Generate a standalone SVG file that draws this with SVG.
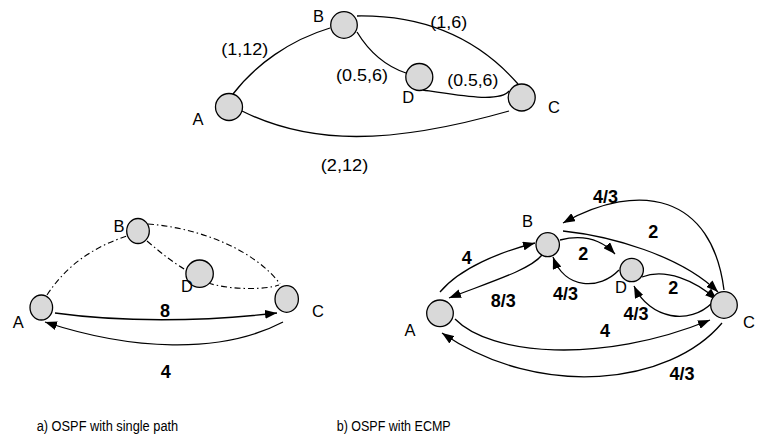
<svg xmlns="http://www.w3.org/2000/svg" width="758" height="439" viewBox="0 0 758 439">
<style>
.edge{fill:none;stroke:#000;stroke-width:1.3}
.dash{fill:none;stroke:#000;stroke-width:1.1;stroke-dasharray:6 3 1.5 3}
.arr{fill:none;stroke:#000;stroke-width:1.3;marker-end:url(#ah)}
.node{fill:#d9d9d9;stroke:#000;stroke-width:1.3}
.nl{font-family:"Liberation Sans",Arial,sans-serif;font-size:16.5px;fill:#000;text-anchor:middle}
.el{font-family:"Liberation Sans",Arial,sans-serif;font-size:17px;fill:#000;text-anchor:middle}
.bl{font-family:"Liberation Sans",Arial,sans-serif;font-size:18px;font-weight:bold;fill:#000;text-anchor:middle}
.cap{font-family:"Liberation Sans",Arial,sans-serif;font-size:14px;fill:#000}
</style>
<defs>
<marker id="ah" viewBox="0 0 12 9" refX="12" refY="4.5" markerWidth="12" markerHeight="9" orient="auto" markerUnits="userSpaceOnUse">
<path d="M0,0 L12,4.5 L0,9 Z" fill="#000"/>
</marker>
</defs>
<rect width="758" height="439" fill="#fff"/>

<g id="connectors">
<!-- top graph -->
<path class="edge" d="M233,94 C255,65 290,40 330,28"/>
<path class="edge" d="M357,16 C420,15 475,35 518,84"/>
<path class="edge" d="M357,32 C368,50 385,66 406,73"/>
<path class="edge" d="M423,90 C455,95 500,103 509,91"/>
<path class="edge" d="M242,111 C310,145 390,145 509,111"/>
<!-- bottom-left graph -->
<path class="dash" d="M47,295 C70,260 100,245 127,236"/>
<path class="dash" d="M148,224 C200,228 255,250 280,284"/>
<path class="dash" d="M147,241 C160,252 172,262 186,270"/>
<path class="dash" d="M208,283 C230,290 265,290 279,285"/>
<path class="arr" d="M55,313 C120,322 200,322 277,313"/>
<path class="arr" d="M283,322 C220,355 130,350 45,322"/>
<!-- bottom-right graph -->
<path class="arr" d="M440,292 C460,268 500,252 535,243"/>
<path class="arr" d="M542,255 C530,270 490,282 449,298"/>
<path class="arr" d="M619,270 C600,290 565,290 553,257"/>
<path class="arr" d="M560,240 C580,235 600,238 615,254"/>
<path class="arr" d="M563,231 C610,236 680,255 718,292"/>
<path class="arr" d="M724,290 C712,195 640,180 563,223"/>
<path class="arr" d="M642,277 C665,268 695,280 717,300"/>
<path class="arr" d="M712,303 C690,325 650,320 634,286"/>
<path class="arr" d="M455,319 C490,355 600,365 710,320"/>
<path class="arr" d="M722,323 C670,385 540,400 442,333"/>
</g>

<g id="top-edge-labels">
<text class="el" x="244.7" y="54.7" textLength="47" lengthAdjust="spacingAndGlyphs">(1,12)</text>
<text class="el" x="448.7" y="28" textLength="37" lengthAdjust="spacingAndGlyphs">(1,6)</text>
<text class="el" x="362" y="81.4" textLength="52" lengthAdjust="spacingAndGlyphs">(0.5,6)</text>
<text class="el" x="472.8" y="85.7" textLength="51" lengthAdjust="spacingAndGlyphs">(0.5,6)</text>
<text class="el" x="344.5" y="171.4" textLength="47.5" lengthAdjust="spacingAndGlyphs">(2,12)</text>
</g>

<g id="top-A"><circle class="node" cx="229" cy="107" r="13.5"/><text class="nl" x="198" y="125">A</text></g>
<g id="top-B"><circle class="node" cx="344" cy="25" r="13.3"/><text class="nl" x="318.5" y="22">B</text></g>
<g id="top-C"><circle class="node" cx="521.7" cy="97.5" r="13.5"/><text class="nl" x="554" y="113">C</text></g>
<g id="top-D"><circle class="node" cx="419.3" cy="77" r="13.5"/><text class="nl" x="408.3" y="103">D</text></g>

<g id="a-A"><ellipse class="node" cx="41.3" cy="307.5" rx="11.3" ry="12.5"/><text class="nl" x="18.3" y="328">A</text></g>
<g id="a-B"><ellipse class="node" cx="138" cy="231" rx="11.3" ry="12.5"/><text class="nl" x="119" y="231.7">B</text></g>
<g id="a-C"><ellipse class="node" cx="286.7" cy="299" rx="11.7" ry="13.3"/><text class="nl" x="318" y="317">C</text></g>
<g id="a-D"><circle class="node" cx="199.6" cy="273.7" r="13.7"/><text class="nl" x="187" y="292">D</text></g>
<g id="a-labels">
<text class="bl" x="165" y="316.7">8</text>
<text class="bl" x="165.7" y="378">4</text>
</g>

<g id="b-A"><circle class="node" cx="440" cy="313.3" r="13.3"/><text class="nl" x="410" y="336">A</text></g>
<g id="b-B"><ellipse class="node" cx="547.7" cy="244.7" rx="11.7" ry="12"/><text class="nl" x="527.5" y="226.7">B</text></g>
<g id="b-C"><circle class="node" cx="724" cy="305" r="13.3"/><text class="nl" x="749" y="328" text-anchor="start">C</text></g>
<g id="b-D"><circle class="node" cx="631.7" cy="270" r="11.7"/><text class="nl" x="621" y="292.5">D</text></g>
<g id="b-labels">
<text class="bl" x="605.5" y="202.7">4/3</text>
<text class="bl" x="653.3" y="238">2</text>
<text class="bl" x="466.7" y="264">4</text>
<text class="bl" x="583.3" y="260">2</text>
<text class="bl" x="503.3" y="306.7">8/3</text>
<text class="bl" x="565.5" y="300">4/3</text>
<text class="bl" x="673.3" y="294">2</text>
<text class="bl" x="636" y="320">4/3</text>
<text class="bl" x="605" y="336.7">4</text>
<text class="bl" x="682" y="380">4/3</text>
</g>

<g id="captions">
<text class="cap" x="36.7" y="430.5" textLength="141.5" lengthAdjust="spacingAndGlyphs">a) OSPF with single path</text>
<text class="cap" x="336.7" y="430.5" textLength="114" lengthAdjust="spacingAndGlyphs">b) OSPF with ECMP</text>
</g>
</svg>
